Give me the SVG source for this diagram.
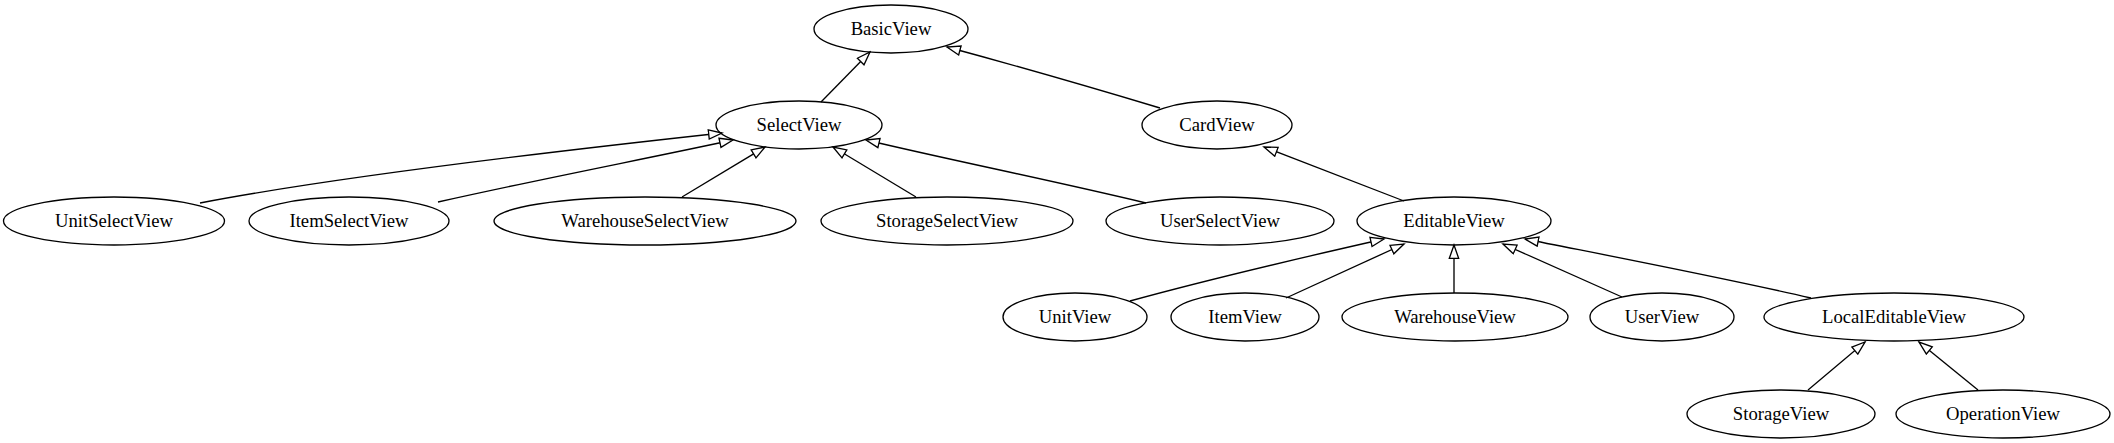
<svg xmlns="http://www.w3.org/2000/svg" width="2114" height="443" viewBox="0 0 2114 443">
<style>
.node ellipse{fill:none;stroke:#000;stroke-width:1.33}
.node text{font-family:"Liberation Serif","Times New Roman",serif;font-size:18.67px;text-anchor:middle;fill:#000}
.edges path{fill:none;stroke:#000;stroke-width:1.33;marker-end:url(#empty)}
</style>
<defs>
<marker id="empty" markerUnits="userSpaceOnUse" markerWidth="16" markerHeight="12" viewBox="-1 -1 16 12" refX="13.33" refY="4.67" orient="auto">
<path d="M0,0 L13.33,4.67 L0,9.33 Z" fill="#fff" stroke="#000" stroke-width="1.33"/>
</marker>
</defs>
<rect width="2114" height="443" fill="#fff"/>
<g class="edges">
<path d="M821,102 L870,52"/>
<path d="M1160,108 C1100,90 1010,64 947,47"/>
<path d="M200,203 C320,180 520,155 722,133"/>
<path d="M438,202 C540,179 650,158 733,140"/>
<path d="M682,197 L765,147"/>
<path d="M916,197 L833,147"/>
<path d="M1146,203 C1050,180 950,160 866,140"/>
<path d="M1404,201 L1264,147"/>
<path d="M1130,301 C1210,279 1300,258 1384,239"/>
<path d="M1286,298 L1404,244"/>
<path d="M1454,293 L1454,245"/>
<path d="M1622,297 L1503,244"/>
<path d="M1811,298 C1720,277 1610,256 1525,239"/>
<path d="M1808,390 L1865,342"/>
<path d="M1978,390 L1919,342"/>
</g>
<g id="BasicView" class="node"><ellipse cx="891" cy="29" rx="77" ry="24"/><text x="891" y="35">BasicView</text></g>
<g id="SelectView" class="node"><ellipse cx="799" cy="125" rx="83" ry="24"/><text x="799" y="131">SelectView</text></g>
<g id="CardView" class="node"><ellipse cx="1217" cy="125" rx="75" ry="24"/><text x="1217" y="131">CardView</text></g>
<g id="UnitSelectView" class="node"><ellipse cx="114" cy="221" rx="110.5" ry="24"/><text x="114" y="227">UnitSelectView</text></g>
<g id="ItemSelectView" class="node"><ellipse cx="349" cy="221" rx="100" ry="24"/><text x="349" y="227">ItemSelectView</text></g>
<g id="WarehouseSelectView" class="node"><ellipse cx="645" cy="221" rx="151" ry="24"/><text x="645" y="227">WarehouseSelectView</text></g>
<g id="StorageSelectView" class="node"><ellipse cx="947" cy="221" rx="126" ry="24"/><text x="947" y="227">StorageSelectView</text></g>
<g id="UserSelectView" class="node"><ellipse cx="1220" cy="221" rx="114" ry="24"/><text x="1220" y="227">UserSelectView</text></g>
<g id="EditableView" class="node"><ellipse cx="1454" cy="221" rx="97" ry="24"/><text x="1454" y="227">EditableView</text></g>
<g id="UnitView" class="node"><ellipse cx="1075" cy="317" rx="72" ry="24"/><text x="1075" y="323">UnitView</text></g>
<g id="ItemView" class="node"><ellipse cx="1245" cy="317" rx="74" ry="24"/><text x="1245" y="323">ItemView</text></g>
<g id="WarehouseView" class="node"><ellipse cx="1455" cy="317" rx="113" ry="24"/><text x="1455" y="323">WarehouseView</text></g>
<g id="UserView" class="node"><ellipse cx="1662" cy="317" rx="72" ry="24"/><text x="1662" y="323">UserView</text></g>
<g id="LocalEditableView" class="node"><ellipse cx="1894" cy="317" rx="130" ry="24"/><text x="1894" y="323">LocalEditableView</text></g>
<g id="StorageView" class="node"><ellipse cx="1781" cy="414" rx="94" ry="24"/><text x="1781" y="420">StorageView</text></g>
<g id="OperationView" class="node"><ellipse cx="2003" cy="414" rx="107" ry="24"/><text x="2003" y="420">OperationView</text></g>
</svg>
